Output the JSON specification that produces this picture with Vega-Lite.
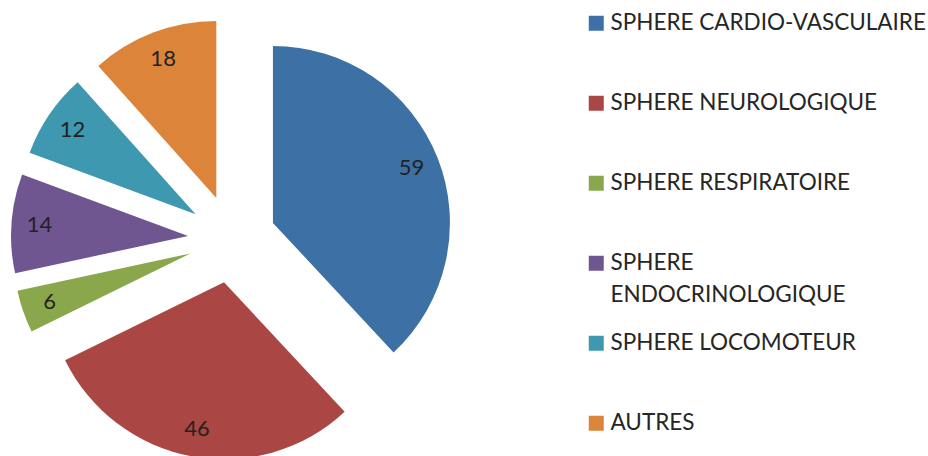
{
  "$schema": "https://vega.github.io/schema/vega-lite/v6.json",
  "width": 928,
  "height": 456,
  "autosize": {"type": "none"},
  "padding": 0,
  "background": "white",
  "config": {
    "view": {"stroke": null},
    "style": {"guide-label": {"lineHeight": 32}}
  },
  "data": {
    "values": [
      {"cat": "SPHERE CARDIO-VASCULAIRE", "v": 59, "o": 1},
      {"cat": "SPHERE NEUROLOGIQUE", "v": 46, "o": 2},
      {"cat": "SPHERE RESPIRATOIRE", "v": 6, "o": 3},
      {"cat": "SPHERE ENDOCRINOLOGIQUE", "v": 14, "o": 4},
      {"cat": "SPHERE LOCOMOTEUR", "v": 12, "o": 5},
      {"cat": "AUTRES", "v": 18, "o": 6}
    ]
  },
  "transform": [
    {"joinaggregate": [{"op": "sum", "field": "v", "as": "total"}]},
    {"stack": "v", "groupby": [], "sort": [{"field": "o", "order": "ascending"}], "as": ["s0", "s1"]},
    {"calculate": "datum.s0 / datum.total", "as": "f0"},
    {"calculate": "datum.s1 / datum.total", "as": "f1"},
    {"calculate": "(datum.f0 + datum.f1) / 2", "as": "fm"},
    {"calculate": "sin(2 * PI * datum.fm)", "as": "ex"},
    {"calculate": "cos(2 * PI * datum.fm)", "as": "ey"}
  ],
  "encoding": {
    "x": {"field": "ex", "type": "quantitative", "scale": {"domain": [-5.2727, 15.8182], "nice": false, "zero": false}, "axis": null},
    "y": {"field": "ey", "type": "quantitative", "scale": {"domain": [-4.9318, 5.4318], "nice": false, "zero": false}, "axis": null}
  },
  "layer": [
    {
      "mark": {"type": "arc", "radius": 177},
      "encoding": {
        "theta": {"field": "f0", "type": "quantitative", "scale": {"domain": [0, 1]}},
        "theta2": {"field": "f1"},
        "color": {
          "field": "cat",
          "type": "nominal",
          "sort": ["SPHERE CARDIO-VASCULAIRE", "SPHERE NEUROLOGIQUE", "SPHERE RESPIRATOIRE", "SPHERE ENDOCRINOLOGIQUE", "SPHERE LOCOMOTEUR", "AUTRES"],
          "scale": {
            "domain": ["SPHERE CARDIO-VASCULAIRE", "SPHERE NEUROLOGIQUE", "SPHERE RESPIRATOIRE", "SPHERE ENDOCRINOLOGIQUE", "SPHERE LOCOMOTEUR", "AUTRES"],
            "range": ["#3D70A5", "#AA4644", "#8AA74C", "#6F5690", "#3E98B0", "#DD843B"]
          },
          "legend": {
            "title": null,
            "orient": "none",
            "legendX": 585,
            "legendY": 12,
            "padding": 0,
            "symbolType": "square",
            "symbolSize": 225,
            "symbolStrokeWidth": 0,
            "labelFont": "Lato",
            "labelFontSize": 22.5,
            "labelColor": "#262626",
            "labelOffset": 3,
            "labelLimit": 400,
            "gridAlign": "all",
            "rowPadding": 25,
            "labelExpr": "datum.label == 'SPHERE ENDOCRINOLOGIQUE' ? ['SPHERE', 'ENDOCRINOLOGIQUE'] : datum.label"
          }
        }
      }
    },
    {
      "mark": {"type": "text", "radius": 149, "font": "Lato", "fontSize": 22, "color": "#222222"},
      "encoding": {
        "theta": {"field": "fm", "type": "quantitative", "scale": {"domain": [0, 1]}},
        "text": {"field": "v", "type": "quantitative"}
      }
    }
  ]
}
